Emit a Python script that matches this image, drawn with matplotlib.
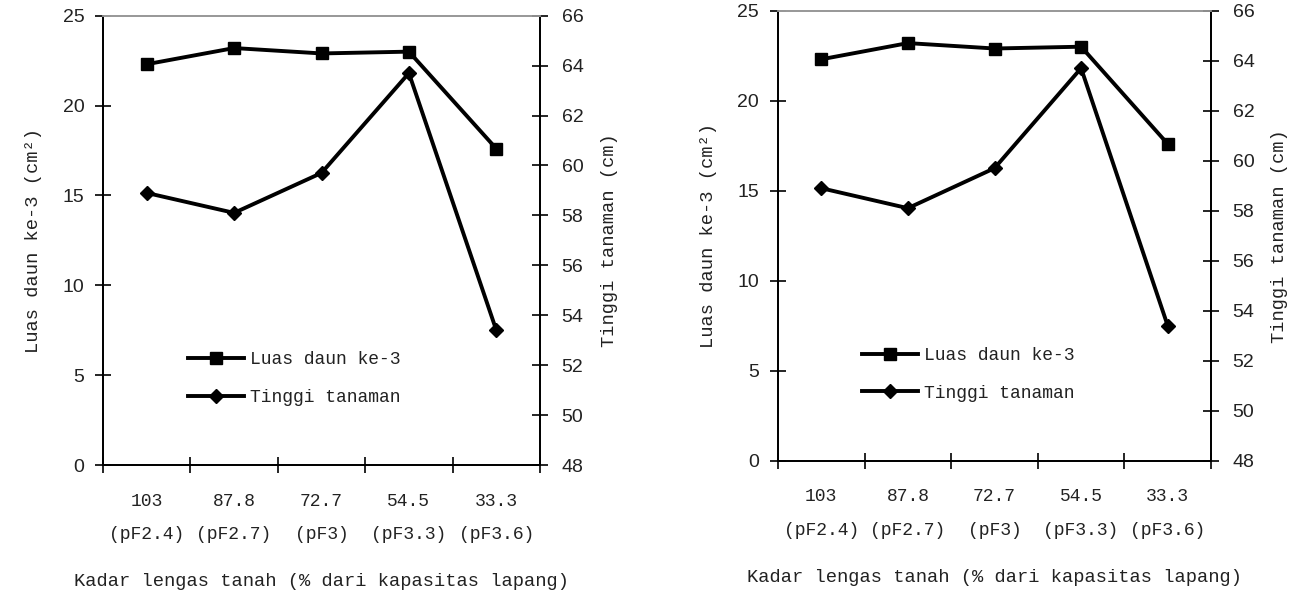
import matplotlib
matplotlib.use("Agg")
import matplotlib.pyplot as plt
import numpy as np

# ---- data ----
cat_top = ["103", "87.8", "72.7", "54.5", "33.3"]
cat_bottom = ["(pF2.4)", "(pF2.7)", "(pF3)", "(pF3.3)", "(pF3.6)"]
luas_daun = [22.3, 23.2, 22.9, 23.0, 17.6]
tinggi_tanaman = [58.9, 58.1, 59.7, 63.7, 53.4]
left_ticks = [0, 5, 10, 15, 20, 25]
right_ticks = [48, 50, 52, 54, 56, 58, 60, 62, 64, 66]

ylabel_left = "Luas daun ke-3 (cm²)"
ylabel_right = "Tinggi tanaman (cm)"
xlabel = "Kadar lengas tanah (% dari kapasitas lapang)"
legend_labels = ["Luas daun ke-3", "Tinggi tanaman"]

W, H = 1296, 596
fig = plt.figure(figsize=(W / 100, H / 100), dpi=100)

TXT = dict(family="Liberation Mono", size=13.5, color="#222222")
NUM_FONT = "Liberation Sans"


def draw_panel(rect):
    ax = fig.add_axes(rect)
    ax2 = ax.twinx()
    x = np.arange(len(cat_top))

    l1, = ax.plot(x, luas_daun, color="black", lw=2.8, marker="s", ms=9,
                  label=legend_labels[0], zorder=3)
    l2, = ax2.plot(x, tinggi_tanaman, color="black", lw=2.8, marker="D", ms=7.5,
                   label=legend_labels[1], zorder=3)

    ax.set_xlim(-0.5, len(cat_top) - 0.5)
    ax.set_ylim(0, 25)
    ax2.set_ylim(48, 66)

    ax.set_yticks(left_ticks)
    ax2.set_yticks(right_ticks)
    for a in (ax, ax2):
        for lab in a.get_yticklabels():
            lab.set_fontfamily(NUM_FONT)
            lab.set_fontsize(14)
            lab.set_color("#222222")
    ax.tick_params(axis="y", direction="inout", length=12, width=1.2, pad=7.5)
    ax2.tick_params(axis="y", direction="inout", length=12, width=1.2, pad=9.5)

    # category boundaries as ticks, labels at centers
    ax.set_xticks(np.arange(-0.5, len(cat_top)), [""] * (len(cat_top) + 1))
    ax.set_xticks(x, [f"{a}\n{b}" for a, b in zip(cat_top, cat_bottom)], minor=True)
    ax.tick_params(axis="x", which="major", direction="inout", length=12, width=1.2)
    ax.tick_params(axis="x", which="minor", length=0, pad=20)
    for lab in ax.get_xticklabels(minor=True):
        lab.set_fontfamily("Liberation Mono")
        lab.set_fontsize(13)
        lab.set_color("#222222")
        lab.set_linespacing(2.25)

    for a in (ax, ax2):
        for s in ("left", "right", "bottom"):
            a.spines[s].set_linewidth(1.3)
            a.spines[s].set_color("black")
        a.spines["top"].set_color("#999999")
        a.spines["top"].set_linewidth(1.3)

    ax.set_ylabel(ylabel_left, **TXT)
    ax.yaxis.set_label_coords(-0.14, 0.5)
    ax2.set_ylabel(ylabel_right, **TXT)
    ax2.yaxis.set_label_coords(1.139, 0.5)
    ax.set_xlabel(xlabel, **TXT)
    ax.xaxis.set_label_coords(0.5, -0.26)
    ax.xaxis.label.set_va("center")

    leg = ax2.legend([l1, l2], legend_labels, loc="upper left",
                     bbox_to_anchor=(0.195, 0.253), frameon=False,
                     prop={"family": "Liberation Mono", "size": 13},
                     handlelength=3.1, handletextpad=0.3, labelspacing=1.15,
                     borderpad=0, borderaxespad=0)
    for t in leg.get_texts():
        t.set_color("#222222")


draw_panel([103 / W, (H - 465) / H, 437 / W, 449.3 / H])
draw_panel([778 / W, (H - 460.7) / H, 433 / W, 450 / H])

fig.savefig("out.png", dpi=100)
